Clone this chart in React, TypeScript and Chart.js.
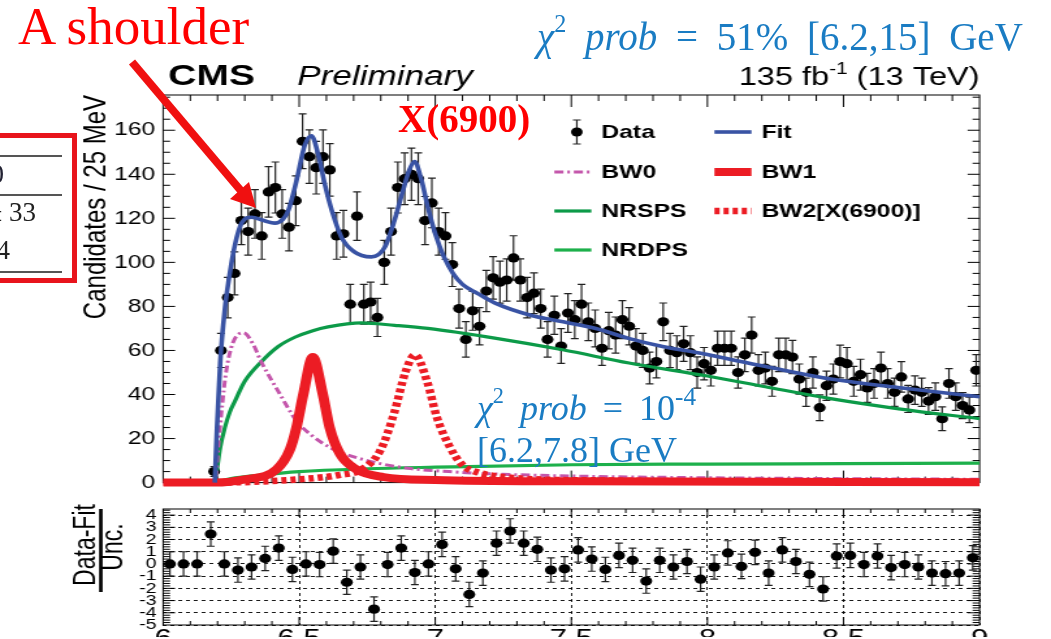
import React, { useEffect, useRef } from 'react';
import { Chart, registerables } from 'chart.js';

Chart.register(...registerables);

const SANS = '"Liberation Sans", Arial, Helvetica, sans-serif';
const SERIF = '"Liberation Serif", "Times New Roman", serif';

// The plot picture is horizontally stretched: canvases are drawn narrower and widened by CSS.
const PAGE_W = 1051;
const STRETCH = 1.3;
const CW = Math.round(PAGE_W / STRETCH);
const px = (p: number) => p / STRETCH;
const LEFT = px(163);
const RIGHT_PAD = CW - px(979);

// ---------- data ----------
const DATA_START = 6.1875; // first filled 25 MeV bin centre
const DATA_BIN = 0.025;
const DATA_Y = [
  5, 60, 84, 95, 119, 114, 122, 112, 132, 134,
  122, 116, 128, 155, 148, 143, 148, 142, 112, 113,
  81, 121, 81, 82, 75, 100, 114, 134, 138, 140,
  138, 119, 127, 114,
  112, 99, 79, 65, 78, 71, 87, 93, 91, 92,
  102, 92, 84, 86, 79, 65, 76, 62, 77, 74,
  81, 73, 70, 61, 69, 67, 74, 71, 62, 60,
  52, 55, 73, 60, 59, 63, 59, 50, 54,
  51, 61, 61, 61, 50, 58, 67, 51, 52, 46,
  58, 58, 57, 47, 41, 50, 34, 44, 47, 55,
  54, 46, 49, 43, 45, 52, 45, 41, 48, 38,
  42, 41, 37, 39, 29, 45, 39, 35, 33, 51,
];

const PULL_START = 6.025; // 50 MeV bin centres
const PULL_BIN = 0.05;
const PULL_Y = [
  0, 0, 0, 2.45, 0, -0.5, -0.25, 0.45, 1.3, -0.45,
  0, -0.05, 1.05, -1.5, -0.25, -3.7, -0.05, 1.3, -0.7, 0,
  1.6, -0.4, -2.5, -0.75, 1.7, 2.7, 1.7, 1.2, -0.5, -0.4,
  1.15, 0.4, -0.45, 0.7, 0.3, -1.4, 0.3, -0.25, 0.2, -1.25,
  -0.25, 0.9, -0.2, 0.95, -0.75, 1.15, 0.2, -0.85, -2.05, 0.65,
  0.7, -0.05, 0.65, -0.3, -0.05, -0.25, -0.75, -0.8, -0.75, 0.5,
];

const FIT_X = [6.19, 6.198, 6.21, 6.227, 6.24, 6.264, 6.289, 6.325, 6.37, 6.41, 6.44, 6.46, 6.49, 6.52, 6.545, 6.57, 6.595, 6.62, 6.655, 6.70, 6.765, 6.815, 6.85, 6.88, 6.905, 6.924, 6.948, 6.973, 7.0, 7.03, 7.065, 7.10, 7.16, 7.22, 7.35, 7.47, 7.59, 7.71, 7.835, 7.97, 8.21, 8.46, 8.70, 9.0];
const FIT_Y = [0, 25, 55, 79, 91, 108, 118, 120.5, 119, 117.8, 119.5, 123.5, 137, 153, 157.5, 149, 135, 123.5, 111.5, 105, 102.5, 107, 119, 132, 142, 145.8, 138, 125, 113, 103, 95, 90, 85.6, 81.5, 76, 73, 70, 65.5, 61.8, 58.8, 52.8, 46.9, 43.2, 39];

const BW0_X = [6.0, 6.19, 6.205, 6.23, 6.255, 6.295, 6.33, 6.36, 6.43, 6.49, 6.54, 6.62, 6.75, 6.9, 7.05, 7.2, 7.5, 8.0, 8.5, 9.0];
const BW0_Y = [0, 0, 20, 49, 63, 68, 63, 55, 40, 28, 22, 15.5, 10, 6.5, 5, 4, 3, 2.2, 1.8, 1.5];

const BW1_X = [6.0, 6.19, 6.3, 6.417, 6.466, 6.49, 6.515, 6.55, 6.587, 6.612, 6.65, 6.71, 6.81, 7.0, 7.5, 9.0];
const BW1_Y = [0, 0, 1.5, 6, 15, 25, 40, 57, 40, 25, 13, 6, 2.5, 1.2, 0.6, 0.2];

const BW2_X = [6.0, 6.19, 6.5, 6.65, 6.73, 6.80, 6.85, 6.89, 6.925, 6.97, 7.005, 7.05, 7.1, 7.16, 7.3, 7.6, 9.0];
const BW2_Y = [0, 0, 1.5, 3.5, 6, 15, 32, 50, 58, 46, 30, 17, 8, 4.5, 2, 1, 0.3];

const NRSPS_X = [6.19, 6.198, 6.21, 6.227, 6.245, 6.264, 6.3, 6.362, 6.423, 6.484, 6.55, 6.606, 6.728, 6.851, 6.973, 7.224, 7.468, 7.712, 8.0, 8.213, 8.458, 8.703, 9.0];
const NRSPS_Y = [0, 6, 16, 25, 32, 37, 46, 55, 61.8, 66, 69, 70.7, 72.5, 71.4, 70, 65.5, 60.3, 54.3, 48.4, 43.5, 38, 33.5, 29];

const NRDPS_X = [6.19, 6.25, 6.35, 6.5, 6.75, 7.0, 7.5, 8.0, 8.5, 9.0];
const NRDPS_Y = [0, 1.8, 3.3, 5, 6.3, 7, 8.1, 8.4, 8.6, 8.8];

const MAIN_Y_TICKS = [0, 20, 40, 60, 80, 100, 120, 140, 160];
const PULL_Y_TICKS = [-5, -4, -3, -2, -1, 0, 1, 2, 3, 4];
const X_TICKS = [6, 6.5, 7, 7.5, 8, 8.5, 9];
const X_MAJOR_INNER = [6.5, 7, 7.5, 8, 8.5];

const COLORS = {
  fit: '#3953a4',
  bw0: '#c456ab',
  bw1: '#ec1c24',
  bw2: '#ec1c24',
  nrsps: '#0c9a48',
  nrdps: '#1db04b',
};

// ---------- helpers ----------
function steps(a: number, b: number, s: number, skipEvery: number) {
  const out: number[] = [];
  for (let i = 0; ; i++) {
    const v = +(a + i * s).toFixed(4);
    if (v > b + 1e-9) break;
    const r = v / skipEvery;
    if (Math.abs(r - Math.round(r)) < 1e-6) continue;
    out.push(v);
  }
  return out;
}
const zip = (xs: number[], ys: number[]) => xs.map((x, i) => ({ x, y: ys[i] }));

// ---------- plugins ----------
const frameTicks = {
  id: 'frameTicks',
  beforeDatasetsDraw(chart: any, _a: any, o: any) {
    const { ctx, chartArea: a, scales } = chart;
    const x = scales.x, y = scales.y;
    ctx.save();
    ctx.strokeStyle = '#000';
    ctx.lineWidth = 1;
    ctx.setLineDash([]);
    ctx.beginPath();
    const dx = (vals: number[], len: number) => vals.forEach((v) => {
      const p = x.getPixelForValue(v);
      ctx.moveTo(p, a.bottom); ctx.lineTo(p, a.bottom - len);
      ctx.moveTo(p, a.top); ctx.lineTo(p, a.top + len);
    });
    const dy = (vals: number[], len: number) => vals.forEach((v) => {
      const p = y.getPixelForValue(v);
      ctx.moveTo(a.left, p); ctx.lineTo(a.left + len, p);
      ctx.moveTo(a.right, p); ctx.lineTo(a.right - len, p);
    });
    dx(o.xMajor, o.xMajLen); dx(o.xMinor, o.xMinLen);
    dy(o.yMajor, o.yMajLen); dy(o.yMinor, o.yMinLen);
    ctx.stroke();
    ctx.strokeRect(a.left, a.top, a.right - a.left, a.bottom - a.top);
    ctx.restore();
  },
};

const errorBars = {
  id: 'errorBars',
  beforeDatasetsDraw(chart: any) {
    const { ctx, scales } = chart;
    chart.data.datasets.forEach((ds: any) => {
      if (!ds.errors) return;
      ctx.save();
      ctx.strokeStyle = '#222';
      ctx.lineWidth = 1.2;
      ctx.beginPath();
      ds.data.forEach((p: any, j: number) => {
        const e = ds.errors[j];
        const xp = scales.x.getPixelForValue(p.x);
        const y1 = scales.y.getPixelForValue(p.y - e);
        const y2 = scales.y.getPixelForValue(p.y + e);
        const cap = 3;
        ctx.moveTo(xp, y1); ctx.lineTo(xp, y2);
        ctx.moveTo(xp - cap, y1); ctx.lineTo(xp + cap, y1);
        ctx.moveTo(xp - cap, y2); ctx.lineTo(xp + cap, y2);
      });
      ctx.stroke();
      ctx.restore();
    });
  },
};

const LEGEND_ROWS = [132, 172, 211, 250];
const LEGEND_ITEMS = [
  { label: 'Data', col: 0, row: 0 },
  { label: 'Fit', col: 1, row: 0 },
  { label: 'BW0', col: 0, row: 1 },
  { label: 'BW1', col: 1, row: 1 },
  { label: 'NRSPS', col: 0, row: 2 },
  { label: 'BW2[X(6900)]', col: 1, row: 2 },
  { label: 'NRDPS', col: 0, row: 3 },
];

const cmsLegend = {
  id: 'cmsLegend',
  afterDraw(chart: any) {
    const ctx = chart.ctx;
    const ds = chart.data.datasets;
    ctx.save();
    ctx.textBaseline = 'middle';
    ctx.textAlign = 'left';
    LEGEND_ITEMS.forEach((it) => {
      const d = ds.find((q: any) => q.label === it.label);
      const x0 = it.col === 0 ? px(554) : px(714);
      const x1 = it.col === 0 ? px(591) : px(751);
      const y = LEGEND_ROWS[it.row];
      if (it.label === 'Data') {
        const cx = (x0 + x1) / 2 + px(4);
        ctx.strokeStyle = '#222'; ctx.lineWidth = 1.2; ctx.setLineDash([]);
        ctx.beginPath();
        ctx.moveTo(cx, y - 12); ctx.lineTo(cx, y + 12);
        ctx.moveTo(cx - 3, y - 12); ctx.lineTo(cx + 3, y - 12);
        ctx.moveTo(cx - 3, y + 12); ctx.lineTo(cx + 3, y + 12);
        ctx.stroke();
        ctx.fillStyle = '#000';
        ctx.beginPath(); ctx.arc(cx, y, 4.5, 0, Math.PI * 2); ctx.fill();
      } else if (d) {
        ctx.strokeStyle = d.borderColor;
        ctx.lineWidth = d.borderWidth;
        ctx.setLineDash(d.borderDash || []);
        ctx.beginPath(); ctx.moveTo(x0, y); ctx.lineTo(x1, y); ctx.stroke();
      }
      ctx.setLineDash([]);
      ctx.fillStyle = '#000';
      ctx.font = `bold 19px ${SANS}`;
      ctx.fillText(it.label, x1 + px(10), y + 1);
    });
    ctx.restore();
  },
};

const cmsHeader = {
  id: 'cmsHeader',
  afterDraw(chart: any) {
    const ctx = chart.ctx;
    ctx.save();
    ctx.fillStyle = '#000';
    ctx.textBaseline = 'alphabetic';
    ctx.textAlign = 'left';
    ctx.font = `bold 30px ${SANS}`;
    ctx.fillText('CMS', px(168), 85);
    ctx.font = `italic 27px ${SANS}`;
    ctx.fillText('Preliminary', px(297), 85);
    // luminosity label, right aligned to the frame
    const big = `25px ${SANS}`, small = `16px ${SANS}`;
    ctx.font = big; const w1 = ctx.measureText('135 fb').width;
    ctx.font = small; const w2 = ctx.measureText('-1').width;
    ctx.font = big; const w3 = ctx.measureText(' (13 TeV)').width;
    let x = chart.chartArea.right - (w1 + w2 + w3);
    ctx.font = big; ctx.fillText('135 fb', x, 85); x += w1;
    ctx.font = small; ctx.fillText('-1', x, 74); x += w2;
    ctx.font = big; ctx.fillText(' (13 TeV)', x, 85);
    ctx.restore();
  },
};

const pullTitle = {
  id: 'pullTitle',
  afterDraw(chart: any) {
    const ctx = chart.ctx;
    const a = chart.chartArea;
    ctx.save();
    ctx.fillStyle = '#000';
    ctx.font = `23px ${SANS}`;
    ctx.textAlign = 'center';
    ctx.textBaseline = 'middle';
    ctx.save(); ctx.translate(px(87), 50); ctx.rotate(-Math.PI / 2); ctx.fillText('Data-Fit', 0, 0); ctx.restore();
    ctx.save(); ctx.translate(px(114), 52); ctx.rotate(-Math.PI / 2); ctx.fillText('Unc.', 0, 0); ctx.restore();
    ctx.fillRect(px(99), a.top, px(3.5), 83);
    ctx.restore();
  },
};

// ---------- configs ----------
function curve(label: string, xs: number[], ys: number[], color: string, width: number, order: number, dash?: number[]) {
  return {
    label,
    data: zip(xs, ys),
    showLine: true,
    borderColor: color,
    backgroundColor: color,
    borderWidth: width,
    borderDash: dash || [],
    borderJoinStyle: 'round',
    pointRadius: 0,
    cubicInterpolationMode: 'monotone',
    order,
    clip: { left: 0, top: 0, right: 0, bottom: 6 },
  };
}

function mainConfig(): any {
  const dataPts = DATA_Y.map((y, i) => ({ x: DATA_START + i * DATA_BIN, y }));
  return {
    type: 'scatter',
    data: {
      datasets: [
        {
          label: 'Data',
          data: dataPts,
          errors: DATA_Y.map((v) => Math.sqrt(v)),
          pointRadius: 4.6,
          pointBorderWidth: 0,
          backgroundColor: '#000',
          borderColor: '#000',
          showLine: false,
          order: 10,
        },
        curve('NRDPS', NRDPS_X, NRDPS_Y, COLORS.nrdps, 3.2, 7),
        curve('NRSPS', NRSPS_X, NRSPS_Y, COLORS.nrsps, 3.2, 6),
        curve('BW0', BW0_X, BW0_Y, COLORS.bw0, 3, 5, [7, 3, 2, 3]),
        curve('BW2[X(6900)]', BW2_X, BW2_Y, COLORS.bw2, 6.5, 4, [4, 3]),
        curve('BW1', BW1_X, BW1_Y, COLORS.bw1, 8, 3),
        curve('Fit', FIT_X, FIT_Y, COLORS.fit, 3.6, 1),
      ],
    },
    options: {
      responsive: false,
      animation: false,
      devicePixelRatio: 1,
      events: [],
      layout: { padding: { left: 0, right: RIGHT_PAD, top: 95, bottom: 10 } },
      plugins: {
        legend: { display: false },
        tooltip: { enabled: false },
        frameTicks: {
          xMajor: X_MAJOR_INNER, xMinor: steps(6, 9, 0.1, 0.5), xMajLen: 12, xMinLen: 6,
          yMajor: MAIN_Y_TICKS, yMinor: steps(0, 175, 5, 20), yMajLen: px(12), yMinLen: px(7),
        },
      },
      scales: {
        x: { type: 'linear', min: 6, max: 9, display: false },
        y: {
          type: 'linear', min: 0, max: 176,
          afterBuildTicks: (s: any) => { s.ticks = MAIN_Y_TICKS.map((v) => ({ value: v })); },
          afterFit: (s: any) => { s.width = LEFT; },
          grid: { display: false, drawTicks: false },
          border: { display: false },
          ticks: { color: '#000', font: { family: SANS, size: 19 }, padding: 6, autoSkip: false, callback: (v: any) => String(v) },
          title: { display: true, text: 'Candidates / 25 MeV', align: 'end', color: '#000', font: { family: SANS, size: 24 }, padding: { top: 60, bottom: 0 } },
        },
      },
    },
    plugins: [frameTicks, errorBars, cmsLegend, cmsHeader],
  };
}

function pullConfig(): any {
  const pts = PULL_Y.map((y, i) => ({ x: PULL_START + i * PULL_BIN, y }));
  return {
    type: 'scatter',
    data: {
      datasets: [
        {
          label: 'Pull',
          data: pts,
          errors: PULL_Y.map(() => 1),
          pointRadius: 4.6,
          pointBorderWidth: 0,
          backgroundColor: '#000',
          borderColor: '#000',
          showLine: false,
        },
      ],
    },
    options: {
      responsive: false,
      animation: false,
      devicePixelRatio: 1,
      events: [],
      layout: { padding: { left: 0, right: RIGHT_PAD, top: 10, bottom: 0 } },
      plugins: {
        legend: { display: false },
        tooltip: { enabled: false },
        frameTicks: {
          xMajor: X_MAJOR_INNER, xMinor: steps(6, 9, 0.1, 0.5), xMajLen: 8, xMinLen: 4,
          yMajor: [-4, -3, -2, -1, 0, 1, 2, 3, 4], yMinor: steps(-5, 4.4, 0.2, 1), yMajLen: px(12), yMinLen: px(7),
        },
      },
      scales: {
        x: {
          type: 'linear', min: 6, max: 9,
          afterBuildTicks: (s: any) => { s.ticks = X_TICKS.map((v) => ({ value: v })); },
          afterFit: (s: any) => { s.height = 12; },
          grid: { display: true, drawTicks: false, color: '#000', lineWidth: 0.9 },
          border: { display: false, dash: [3, 3] },
          ticks: { color: '#000', font: { family: SANS, size: 24 }, padding: 0, maxRotation: 0, autoSkip: false, callback: (v: any) => String(v) },
        },
        y: {
          type: 'linear', min: -5, max: 4.5,
          afterBuildTicks: (s: any) => { s.ticks = PULL_Y_TICKS.map((v) => ({ value: v })); },
          afterFit: (s: any) => { s.width = LEFT; },
          grid: { display: true, drawTicks: false, color: '#000', lineWidth: 0.9 },
          border: { display: false, dash: [3, 3] },
          ticks: { color: '#000', font: { family: SANS, size: 15 }, padding: 5, autoSkip: false, callback: (v: any) => String(v) },
        },
      },
    },
    plugins: [frameTicks, errorBars, pullTitle],
  };
}

const BLUE = '#1a7cc3';

export default function App() {
  const mainRef = useRef<HTMLCanvasElement>(null);
  const pullRef = useRef<HTMLCanvasElement>(null);

  useEffect(() => {
    const c1 = new Chart(mainRef.current as HTMLCanvasElement, mainConfig());
    const c2 = new Chart(pullRef.current as HTMLCanvasElement, pullConfig());
    return () => { c1.destroy(); c2.destroy(); };
  }, []);

  const sup: React.CSSProperties = { fontSize: '0.62em', position: 'relative', top: '-0.75em', lineHeight: 0 };

  return (
    <div style={{ position: 'absolute', left: 0, top: 0, width: PAGE_W, height: 639, overflow: 'hidden', background: '#fff' }}>
      <canvas ref={mainRef} width={CW} height={500} style={{ position: 'absolute', left: 0, top: 0, width: `${PAGE_W}px`, height: '500px' }} />
      <canvas ref={pullRef} width={CW} height={144} style={{ position: 'absolute', left: 0, top: 495, width: `${PAGE_W}px`, height: '144px' }} />

      {/* red table box at the left edge */}
      <div style={{ position: 'absolute', left: -40, top: 133, width: 117, height: 150, border: '5px solid #e8141c', boxSizing: 'border-box' }} />
      <div style={{ position: 'absolute', left: 0, top: 155, width: 62, height: 1.5, background: '#555' }} />
      <div style={{ position: 'absolute', left: 0, top: 194, width: 62, height: 1.5, background: '#555' }} />
      <div style={{ position: 'absolute', left: 0, top: 271, width: 62, height: 1.5, background: '#555' }} />
      <div style={{ position: 'absolute', left: -96, width: 100, top: 161, textAlign: 'right', font: `27px ${SERIF}`, lineHeight: 1, color: '#223' }}>690</div>
      <div style={{ position: 'absolute', left: -64, width: 100, top: 199, textAlign: 'right', font: `27px ${SERIF}`, lineHeight: 1, color: '#222' }}>± 33</div>
      <div style={{ position: 'absolute', left: -90, width: 100, top: 237, textAlign: 'right', font: `27px ${SERIF}`, lineHeight: 1, color: '#222' }}>14</div>

      {/* annotations */}
      <div style={{ position: 'absolute', left: 18, top: 0, font: `53px ${SERIF}`, lineHeight: 1, color: '#f00', whiteSpace: 'nowrap' }}>A shoulder</div>
      <div style={{ position: 'absolute', left: 537, top: 17, font: `39px ${SERIF}`, lineHeight: 1, color: BLUE, whiteSpace: 'nowrap', wordSpacing: '9px' }}>
        <i>χ</i><span style={sup}>2</span> <i>prob</i> = 51% [6.2,15] GeV
      </div>
      <div style={{ position: 'absolute', left: 398, top: 99, font: `bold 39px ${SERIF}`, lineHeight: 1, color: '#f00', whiteSpace: 'nowrap' }}>X(6900)</div>
      <div style={{ position: 'absolute', left: 477, top: 390, font: `36px ${SERIF}`, lineHeight: 1, color: BLUE, whiteSpace: 'nowrap', wordSpacing: '7px' }}>
        <i>χ</i><span style={sup}>2</span> <i>prob</i> = 10<span style={{ ...sup, fontSize: '0.7em', top: '-0.6em' }}>-4</span>
      </div>
      <div style={{ position: 'absolute', left: 477, top: 432, font: `36px ${SERIF}`, lineHeight: 1, color: BLUE, whiteSpace: 'nowrap' }}>[6.2,7.8] GeV</div>

      <svg width={PAGE_W} height={639} style={{ position: 'absolute', left: 0, top: 0, pointerEvents: 'none' }}>
        <line x1={132} y1={62} x2={242} y2={192} stroke="#f01010" strokeWidth={8} />
        <polygon points="256,208 230,199 249,182" fill="#f01010" />
      </svg>
    </div>
  );
}
